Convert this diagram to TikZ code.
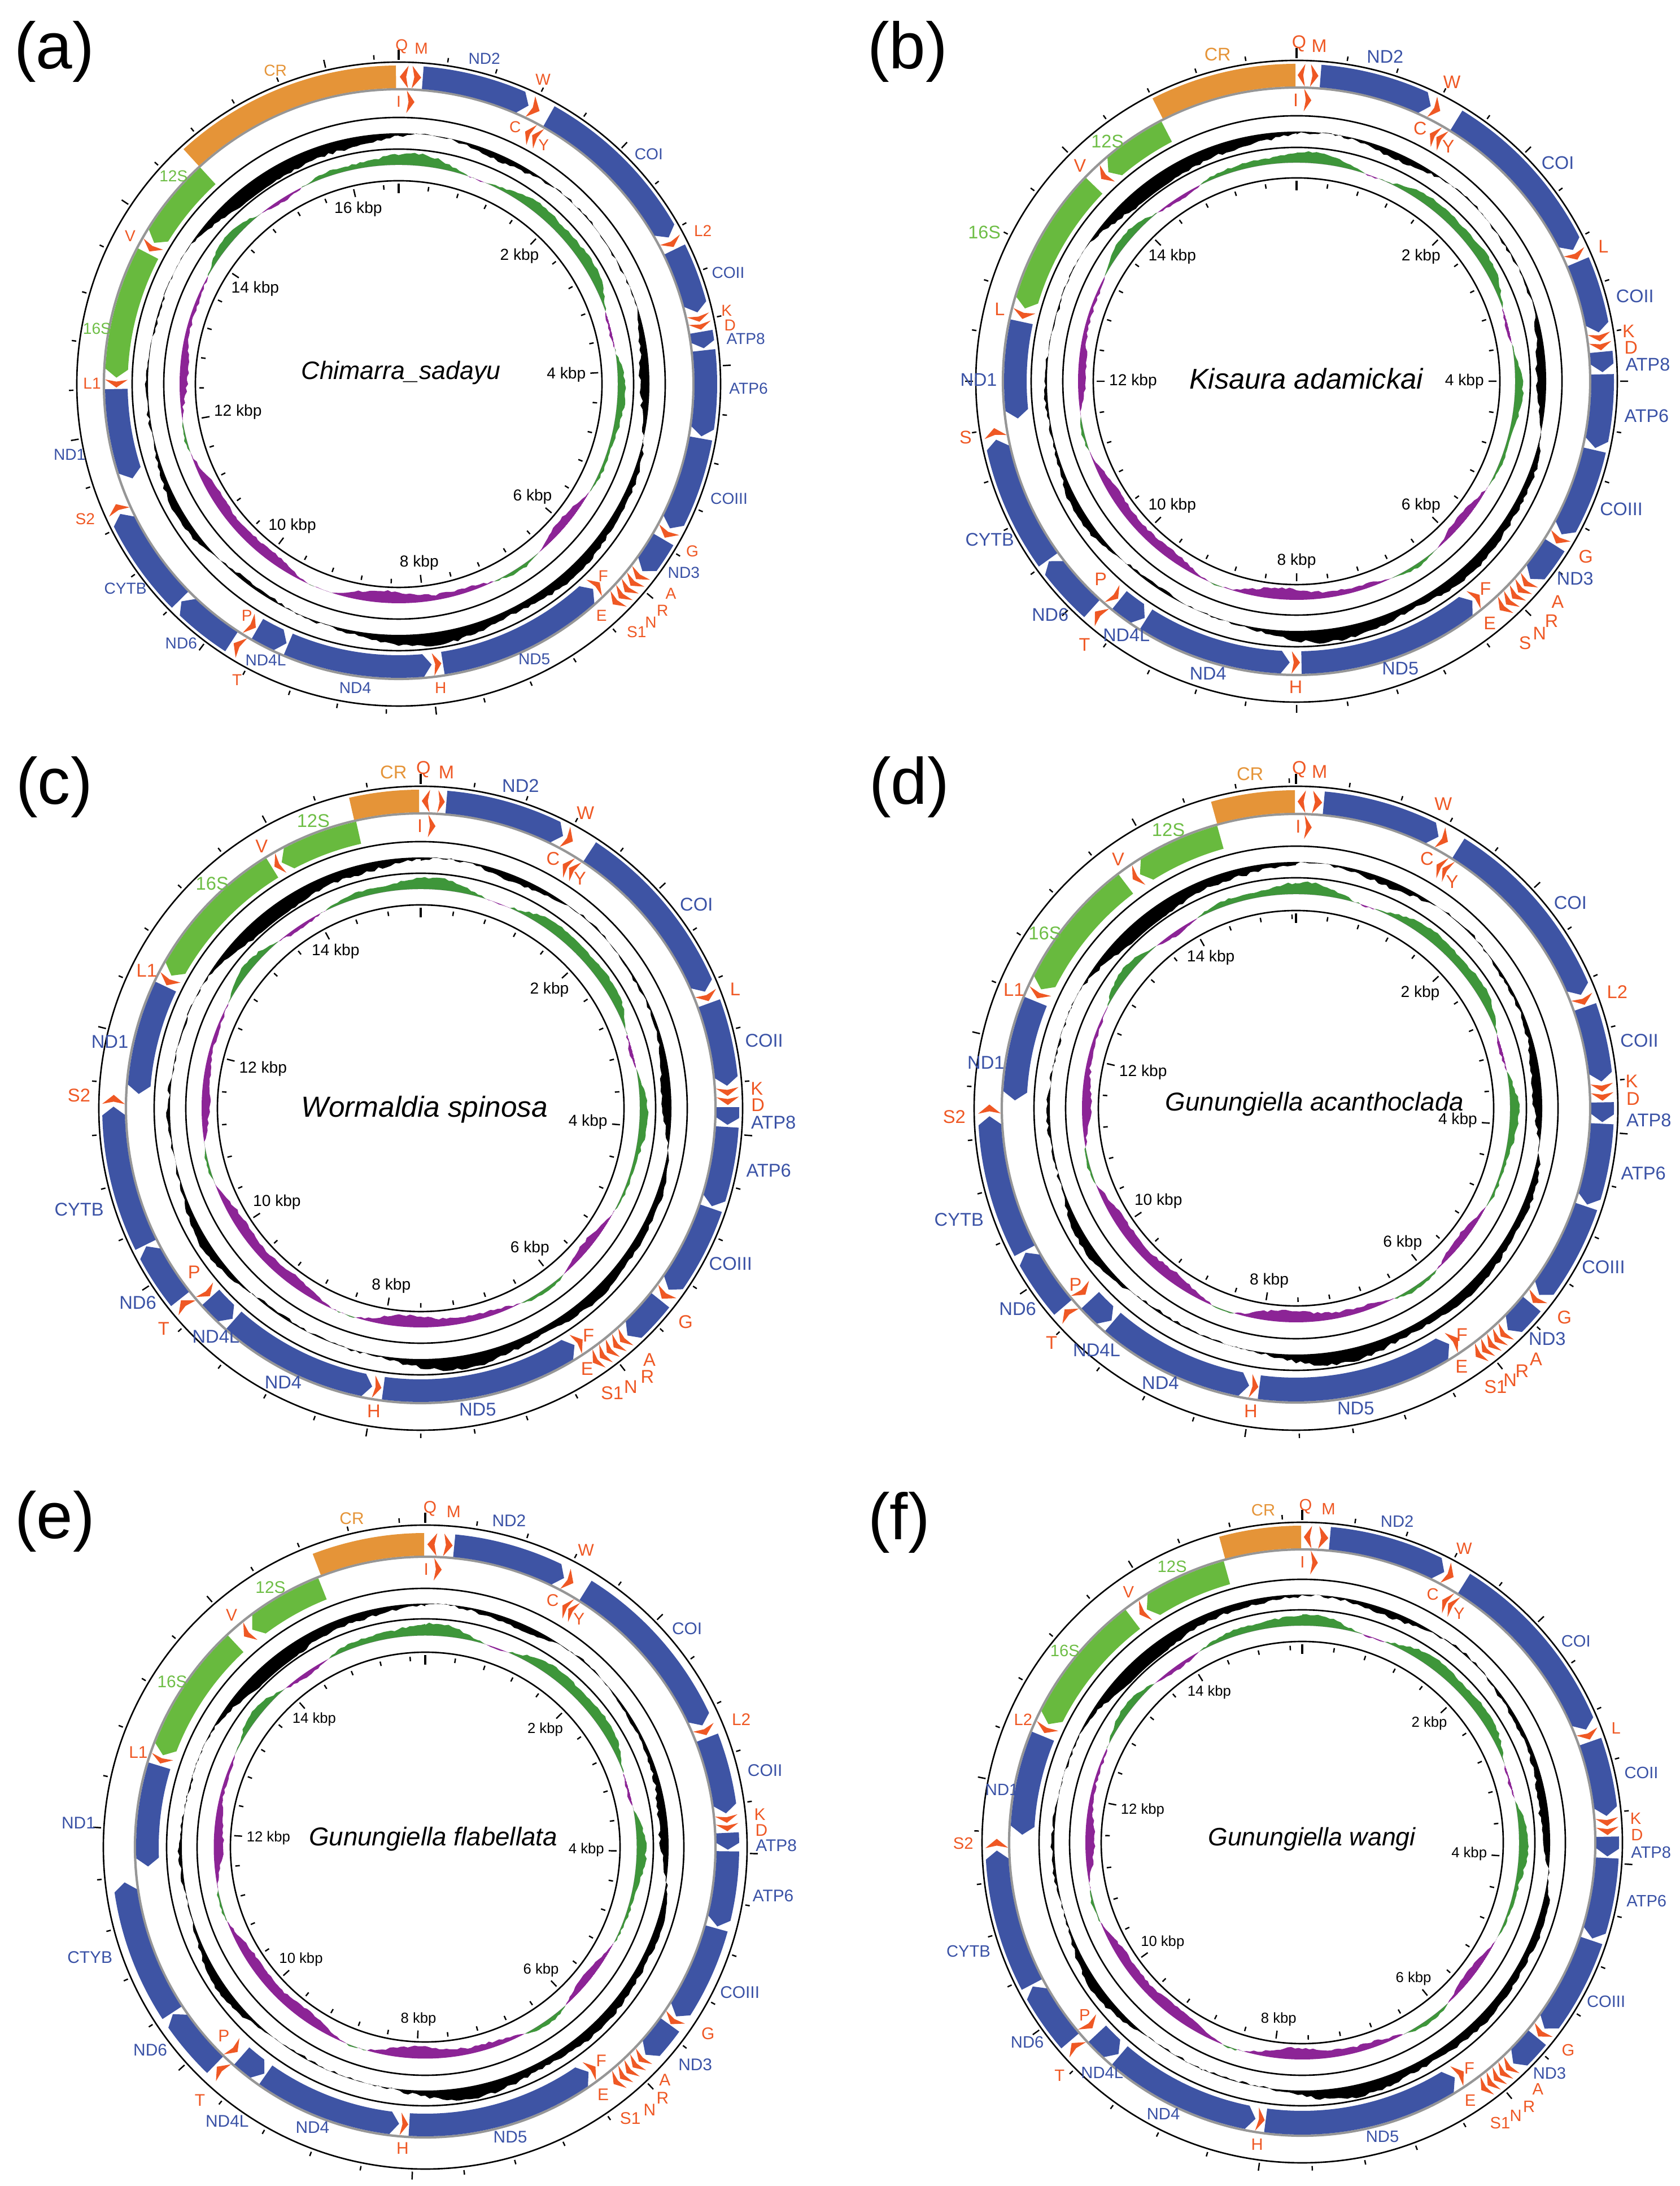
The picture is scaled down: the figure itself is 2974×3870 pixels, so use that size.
\documentclass[tikz,border=0pt]{standalone}
\usepackage{fontspec}
\setmainfont{Liberation Sans}

\definecolor{featB}{RGB}{62,84,164}
\definecolor{featG}{RGB}{104,186,62}
\definecolor{featO}{RGB}{229,148,56}
\definecolor{featR}{RGB}{239,88,36}
\definecolor{labB}{RGB}{58,82,166}
\definecolor{labG}{RGB}{110,190,70}
\definecolor{labO}{RGB}{229,148,56}
\definecolor{labR}{RGB}{239,88,36}
\definecolor{skewgreen}{RGB}{62,150,58}
\definecolor{skewpurple}{RGB}{140,36,150}
\definecolor{bbgrey}{RGB}{150,150,150}

\tikzset{
  ringline/.style={line width=0.75pt},
  backbone/.style={draw=bbgrey, line width=1.2pt},
  tickline/.style={line width=0.7pt},
  zerotick/.style={line width=1.4pt},
  glab/.style={font=\fontsize{\labfs}{\labfs}\selectfont, inner sep=0.5pt},
  kbplab/.style={font=\fontsize{\kbpfs}{\kbpfs}\selectfont, inner sep=1pt},
  spname/.style={font=\fontsize{\spfs}{\spfs}\selectfont\itshape, inner sep=0pt},
  panlab/.style={font=\fontsize{33}{33}\selectfont, inner sep=0pt},
}

% skew and GC content shapes (angle \x clockwise from top)
\newcommand{\skewf}{0.45*cos(\x+20)+0.42*sin(\x)+0.35*cos(7*\x+10+\ph)+0.2*sin(13*\x+\ph)+0.16*(rnd-0.5)}
\newcommand{\gcf}{0.5*cos(\x-170)+0.35*sin(3*\x+\ph)+0.25*cos(6*\x+2*\ph)+0.15*sin(11*\x+\ph)+0.22*(rnd-0.5)}

% R0, band out, backbone, band in, R2, R3, R4, length (kbp), phase
\newcommand{\setpanel}[9]{\def\Rz{#1}\def\Rbo{#2}\def\Rb{#3}\def\Rbi{#4}%
  \def\Rtwo{#5}\def\Rthree{#6}\def\Rfour{#7}\def\gLen{#8}\def\ph{#9}}

\newcommand{\drawrings}{%
  \pgfmathsetmacro\Rg{(\Rtwo+\Rthree)/2}%
  \pgfmathsetmacro\hg{0.44*(\Rtwo-\Rthree)}%
  \pgfmathsetmacro\Rs{(\Rthree+\Rfour)/2}%
  \pgfmathsetmacro\hs{0.44*(\Rthree-\Rfour)}%
  \pgfmathsetseed{\ph}%
  \fill[black, even odd rule] (0,0) circle[radius=\Rg]
    plot[domain=0:360, samples=361] ({90-\x}:{\Rg+\hg*max(-1,min(1,\gcf))}) -- cycle;
  \pgfmathsetseed{\ph+100}%
  \begin{scope}
    \clip plot[domain=0:360, samples=361] ({90-\x}:{\Rs+\hs*max(-1,min(1,\skewf))}) -- cycle;
    \fill[skewgreen, even odd rule] (0,0) circle[radius=\Rthree] (0,0) circle[radius=\Rs];
  \end{scope}
  \pgfmathsetseed{\ph+100}%
  \begin{scope}
    \clip (0,0) circle[radius=\Rs];
    \fill[skewpurple, even odd rule] (0,0) circle[radius=\Rs]
      plot[domain=0:360, samples=361] ({90-\x}:{\Rs+\hs*max(-1,min(1,\skewf))}) -- cycle;
  \end{scope}
  \draw[ringline] (0,0) circle[radius=\Rz] (0,0) circle[radius=\Rtwo]
    (0,0) circle[radius=\Rthree] (0,0) circle[radius=\Rfour];
  \draw[backbone] (0,0) circle[radius=\Rb];
}

\newcommand{\drawticks}[1]{%
  \pgfmathtruncatemacro\nt{ceil(\gLen/0.4)-1}%
  \foreach \k in {0,...,\nt}{%
    \pgfmathsetmacro\ta{90-\k*0.4/\gLen*360}%
    \pgfmathtruncatemacro\kmaj{mod(\k,5)}%
    \ifnum\k=0
      \draw[zerotick] (\ta:{\Rz+4}) -- (\ta:{\Rz+22}) (\ta:{\Rfour-5}) -- (\ta:{\Rfour-22});
    \else\ifnum\kmaj=0
      \draw[tickline] (\ta:{\Rz+5}) -- (\ta:{\Rz+19}) (\ta:{\Rfour-6}) -- (\ta:{\Rfour-20});
    \else
      \draw[tickline] (\ta:{\Rz+6}) -- (\ta:{\Rz+14}) (\ta:{\Rfour-7}) -- (\ta:{\Rfour-15});
    \fi\fi
  }%
  \foreach \kb in {2,4,...,#1}{%
    \pgfmathsetmacro\ta{90-\kb/\gLen*360}%
    \pgfmathsetmacro\tn{mod(\ta+720,360)}%
    \node[kbplab, anchor=\tn] (\pn-kbp\kb) at (\ta:{\Rfour-24}) {\kb\ kbp};
  }}

\def\typR{R}\def\bandO{o}
% start, end, band (o/i), direction, type (B/G/O/R)
\newcommand{\feat}[5]{%
  \edef\tmpb{#3}\edef\tmpt{#5}\edef\fc{feat#5}%
  \ifx\tmpb\bandO
    \pgfmathsetmacro\rIn{\Rb+2}\let\rOut\Rbo
  \else
    \let\rIn\Rbi\pgfmathsetmacro\rOut{\Rb-2}%
  \fi
  \pgfmathsetmacro\rMid{(\rIn+\rOut)/2}%
  \pgfmathsetmacro\aS{90-(#1)}\pgfmathsetmacro\aE{90-(#2)}%
  \ifx\tmpt\typR
    \pgfmathsetmacro\aW{\aS-\aE}%
    \ifnum#4>0
      \pgfmathsetmacro\aN{\aS-0.25*\aW}%
      \fill[fill=\fc] (\aS:\rIn) -- (\aN:\rMid) -- (\aS:\rOut) -- (\aE:\rMid) -- cycle;
    \else
      \pgfmathsetmacro\aN{\aE+0.25*\aW}%
      \fill[fill=\fc] (\aE:\rIn) -- (\aN:\rMid) -- (\aE:\rOut) -- (\aS:\rMid) -- cycle;
    \fi
  \else
    \pgfmathsetmacro\dl{min(15/\rMid*57.3,0.4*(\aS-\aE))}%
    \ifnum#4>0
      \pgfmathsetmacro\aT{\aE+\dl}%
      \fill[fill=\fc] (\aS:\rOut) arc[start angle=\aS,end angle=\aT,radius=\rOut]
        -- (\aE:\rMid) -- (\aT:\rIn) arc[start angle=\aT,end angle=\aS,radius=\rIn] -- cycle;
    \else\ifnum#4<0
      \pgfmathsetmacro\aT{\aS-\dl}%
      \fill[fill=\fc] (\aT:\rOut) arc[start angle=\aT,end angle=\aE,radius=\rOut]
        -- (\aE:\rIn) arc[start angle=\aE,end angle=\aT,radius=\rIn] -- (\aS:\rMid) -- cycle;
    \else
      \fill[fill=\fc] (\aS:\rOut) arc[start angle=\aS,end angle=\aE,radius=\rOut]
        -- (\aE:\rIn) arc[start angle=\aE,end angle=\aS,radius=\rIn] -- cycle;
    \fi\fi
  \fi}

\def\modeO{o}\def\modeB{b}\def\modeN{n}\def\modeX{x}
% angle, mode (o/b/n/x/radius), type, text, name
\newcommand{\flab}[5]{%
  \edef\tmpm{#2}%
  \ifx\tmpm\modeX\else
    \edef\lc{lab#3}%
    \pgfmathsetmacro\la{90-(#1)}%
    \ifx\tmpm\modeO
      \pgfmathsetmacro\lan{mod(270-(#1)+720,360)}%
      \node[glab, text=\lc, anchor=\lan] (#5) at (\la:{\Rz+13}) {#4};%
    \else\ifx\tmpm\modeB
      \node[glab, text=\lc] (#5) at (\la:{\Rb+21}) {#4};%
    \else\ifx\tmpm\modeN
      \node[glab, text=\lc] (#5) at (\la:{\Rb-22}) {#4};%
    \else
      \node[glab, text=\lc] (#5) at (\la:{#2}) {#4};%
    \fi\fi\fi
  \fi}

\newcommand{\drawmap}{%
  \foreach \pS/\pE/\pB/\pD/\pT/\pN/\pM/\pO in \featlist{\feat{\pS}{\pE}{\pB}{\pD}{\pT}}%
  \foreach \pS/\pE/\pB/\pD/\pT/\pN/\pM/\pO [count=\i] in \featlist{%
    \pgfmathsetmacro\lang{(\pS+\pE)/2+\pO}%
    \flab{\lang}{\pM}{\pT}{\pN}{\pn-\i}}}

\begin{document}
\begin{tikzpicture}[x=0.01cm, y=0.01cm]
\useasboundingbox (0,0) rectangle (2974,3870);
\fill[white] (0,0) rectangle (2974,3870);

% {Chimarra sadayu}
\begin{scope}[shift={(706,3190)}]
\def\pn{a}\def\labfs{8}\def\kbpfs{8}
\setpanel{570}{564}{522}{480}{472}{416}{360}{16.6}{3}
\drawrings
\drawticks{16}
\def\featlist{317.5/359.5/o/0/O/CR/o/0, 0.2/1.8/o/-1/R/Q/o/-0.5, 2.5/4.2/o/1/R/M/o/0.5,
 1.6/3.2/i/1/R/I/n/-2.4, 4.5/25/o/1/B/ND2/o/0, 25.4/27.3/o/1/R/W/o/-1,
 26.6/28.1/i/-1/R/C/n/-3, 28.2/29.7/i/-1/R/Y/495/2.3, 29.3/61.5/o/1/B/COI/o/2,
 62/63.5/o/1/R/L2/o/0.5, 64/76.5/o/1/B/COII/o/1, 77/78.3/o/1/R/K/o/-0.3,
 78.5/79.8/o/1/R/D/o/0.8, 80.2/83.3/o/1/B/ATP8/o/0.8, 83.7/99.8/o/1/B/ATP6/o/-1,
 100.2/118/o/1/B/COIII/o/0, 118.3/120/o/1/R/G/o/0.5, 120.4/127.5/o/1/B/ND3/o/-0.5,
 127.9/129.4/o/1/R/A/608/-1.1, 129.5/131/o/1/R/R/616/0.4, 131.1/132.6/o/1/R/N/614/1.5,
 132.7/134.2/o/1/R/S1/608/2.7, 134.3/135.8/o/1/R/E/545/3.7, 134.6/136.2/i/-1/R/F/497/-2.2,
 136.5/171/i/-1/B/ND5/b/0, 171.3/173/i/-1/R/H/b/0, 173.3/203/i/-1/B/ND4/b/0,
 203.4/210/i/-1/B/ND4L/b/-1, 210.4/212.1/i/-1/R/P/490/2, 210.8/212.5/o/1/R/T/o/-3,
 213/225/o/1/B/ND6/o/1, 225.4/245/o/1/B/CYTB/o/-2, 245.4/247/o/1/R/S2/o/0.5,
 250.5/269/i/-1/B/ND1/596/-1.8, 269.3/270.9/i/-1/R/L1/b/0, 271.3/297.5/i/-1/G/16S/b/-4,
 298/299.7/i/-1/R/V/b/0, 300/317.5/i/-1/G/12S/b/4}
\drawmap
\end{scope}

% {Kisaura adamickai}
\begin{scope}[shift={(2296,3195)}]
\def\pn{b}\def\labfs{9.2}\def\kbpfs{8}
\setpanel{568}{562}{520}{478}{470}{414}{360}{16.0}{7}
\drawrings
\drawticks{14}
\def\featlist{333/359.8/o/0/O/CR/o/0, 0.2/1.6/o/-1/R/Q/o/-0.5, 2.6/4.1/o/1/R/M/o/0.5,
 1.5/3.0/i/1/R/I/n/-2.4, 4.5/26/o/1/B/ND2/o/0, 26.3/28/o/1/R/W/o/0.3,
 28.3/29.8/i/-1/R/C/n/-3, 29.8/31.3/i/-1/R/Y/495/2.3, 31.5/64.6/o/1/B/COI/o/2,
 65/66.6/o/1/R/L/o/0.5, 67/80.8/o/1/B/COII/o/2, 81/82.5/o/1/R/K/o/-0.3,
 82.7/84.2/o/1/R/D/o/0.8, 84.5/88.3/o/1/B/ATP8/o/0.8, 88.7/102.6/o/1/B/ATP6/o/0,
 103/120/o/1/B/COIII/o/0, 120.3/122/o/1/R/G/o/0, 122.4/130.2/o/1/B/ND3/o/-1,
 130.5/132/o/1/R/A/605/-1.1, 132.1/133.6/o/1/R/R/620/0.4, 133.7/135.2/o/1/R/N/620/1.6,
 135.3/136.8/o/1/R/S/615/2.8, 136.9/138.4/o/1/R/E/548/3.7, 139.4/141/i/-1/R/F/497/-2.5,
 141.3/179/i/-1/B/ND5/b/0, 179.3/181/i/-1/R/H/b/0, 181.4/212.3/i/-1/B/ND4/b/0,
 212.7/219/i/-1/B/ND4L/b/-2, 219.4/221/i/-1/R/P/493/4.5, 219.5/221.2/o/1/R/T/o/-1.5,
 222/234/o/1/B/ND6/o/-1.5, 234.3/259/o/1/B/CYTB/o/-4, 259.5/261.2/o/1/R/S/o/0,
 262.4/282.2/i/-1/B/ND1/563/-2, 282.8/284.5/i/-1/R/L/b/0, 285/314/i/-1/G/16S/o/-4,
 316/317.7/i/-1/R/V/b/-2, 318/332.5/i/-1/G/12S/b/-3.5}
\drawmap
\end{scope}

% {Wormaldia spinosa}
\begin{scope}[shift={(745,1908)}]
\def\pn{c}\def\labfs{9.3}\def\kbpfs{8}
\setpanel{570}{564}{522}{480}{472}{416}{360}{15.2}{13}
\drawrings
\drawticks{14}
\def\featlist{347/359.7/o/0/O/CR/o/2, 0.2/1.7/o/-1/R/Q/o/-0.5, 3.2/4.5/o/1/R/M/o/0.5,
 1.5/3/i/1/R/I/n/-2.4, 4.8/27.6/o/1/B/ND2/o/1, 28/29.7/o/1/R/W/o/0.3,
 30.2/31.7/i/-1/R/C/n/-3, 31.7/33.2/i/-1/R/Y/495/2.3, 33.4/67.7/o/1/B/COI/o/3,
 68/69.6/o/1/R/L/o/0.5, 70/85.8/o/1/B/COII/o/1, 86.2/87.7/o/1/R/K/o/-0.3,
 87.9/89.4/o/1/R/D/o/0.8, 89.8/93.1/o/1/B/ATP8/o/0.8, 93.5/108.6/o/1/B/ATP6/o/-1,
 109/126.2/o/1/B/COIII/o/-1, 126.6/128.3/o/1/R/G/o/1.4, 128.7/137.7/o/1/B/ND3/x/0,
 138.1/139.5/o/1/R/A/602/-1.1, 139.7/141.1/o/1/R/R/622/-0.6, 141.3/142.7/o/1/R/N/618/1,
 142.9/144.3/o/1/R/S1/608/2.5, 144.5/145.9/o/1/R/E/547/2.2, 145/146.7/i/-1/R/F/500/-2.3,
 147/187.6/i/-1/B/ND5/b/2, 188/189.6/i/-1/R/H/b/0, 189.9/221.4/i/-1/B/ND4/b/1,
 221.8/228/i/-1/B/ND4L/b/-3, 228.3/230/i/-1/R/P/495/5, 229.5/231.3/o/1/R/T/o/-1,
 231.6/243.3/o/1/B/ND6/o/-2, 243.6/270.3/o/1/B/CYTB/o/-3.5, 270.8/272.5/o/1/R/S2/o/0.5,
 272.9/295.5/i/-1/B/ND1/563/-2.1, 295.8/297.6/i/-1/R/L1/b/0, 298/328.3/i/-1/G/16S/b/4,
 328.8/330.3/i/-1/R/V/b/-0.8, 330.5/347.3/i/-1/G/12S/b/0.6}
\drawmap
\end{scope}

% {Gunungiella acanthoclada}
\begin{scope}[shift={(2295,1908)}]
\def\pn{d}\def\labfs{9.3}\def\kbpfs{8}
\setpanel{570}{563}{521}{477}{464}{408}{350}{15.25}{19}
\drawrings
\drawticks{14}
\def\featlist{344.5/359.8/o/0/O/CR/o/0, 0.3/1.8/o/-1/R/Q/o/-0.5, 3.1/4.9/o/1/R/M/o/0,
 1.7/3.2/i/1/R/I/n/-2, 5.2/27.7/o/1/B/ND2/x/0, 28/29.7/o/1/R/W/o/-3,
 30/31.4/i/-1/R/C/n/-3, 31.4/32.8/i/-1/R/Y/487/2.5, 32/68.3/o/1/B/COI/o/3,
 68.7/70.3/o/1/R/L2/o/0.6, 70.7/85/o/1/B/COII/o/1, 85.4/86.9/o/1/R/K/o/-0.8,
 87.1/88.6/o/1/R/D/o/0.5, 88.9/92.6/o/1/B/ATP8/o/1.2, 92.9/108.3/o/1/B/ATP6/o/0,
 108.7/127.5/o/1/B/COIII/o/-0.8, 127.8/129.4/o/1/R/G/o/-0.7, 129.7/136.3/o/1/B/ND3/o/-0.5,
 136.7/138.1/o/1/R/A/615/-1.1, 138.2/139.6/o/1/R/R/614/0.4, 139.7/141.1/o/1/R/N/613/1.4,
 141.2/142.6/o/1/R/S1/607/2.5, 142.7/144.1/o/1/R/E/543/3.9, 144.8/146.5/i/-1/R/F/497/-1.9,
 147/187.5/i/-1/B/ND5/b/1.5, 187.7/189.3/i/-1/R/H/b/0, 189.6/220.6/i/-1/B/ND4/b/1.2,
 221/227/i/-1/B/ND4L/555/-4.5, 228.5/230.2/i/-1/R/P/500/2, 227.3/229/o/1/R/T/o/-2,
 229.5/241.9/o/1/B/ND6/o/-1.5, 242.3/268.5/o/1/B/CYTB/o/-3.7, 269/270.7/o/1/R/S2/o/-1.3,
 271.6/292.3/i/-1/B/ND1/555/-3.6, 293/294.6/i/-1/R/L1/b/-1, 295/322.8/i/-1/G/16S/b/-4,
 324.5/326/i/-1/R/V/b/-0.8, 326.3/344.4/i/-1/G/12S/b/0}
\drawmap
\end{scope}

% {Gunungiella flabellata}
\begin{scope}[shift={(753,600)}]
\def\pn{e}\def\labfs{8.5}\def\kbpfs{7.3}
\setpanel{570}{556}{514}{472}{458}{404}{345}{15.8}{23}
\drawrings
\drawticks{14}
\def\featlist{339/359.8/o/0/O/CR/o/-2, 0.4/2.2/o/-1/R/Q/o/-0.5, 3.5/5.2/o/1/R/M/o/0.5,
 1.8/3.4/i/1/R/I/n/-2.4, 5.5/27.3/o/1/B/ND2/o/-2, 27.6/29.3/o/1/R/W/o/0,
 29.6/31/i/-1/R/C/n/-3, 31/32.4/i/-1/R/Y/487/2.3, 32/66.3/o/1/B/COI/o/1,
 66.7/68.3/o/1/R/L2/o/0.5, 68.8/83.6/o/1/B/COII/o/1, 84/85.4/o/1/R/K/o/-0.3,
 85.6/87/o/1/R/D/o/0.8, 87.3/90.5/o/1/B/ATP8/o/0.8, 90.8/105.2/o/1/B/ATP6/o/0,
 105.6/124/o/1/B/COIII/o/0, 124.2/125.8/o/1/R/G/o/-1.6, 126/133.3/o/1/B/ND3/614/-0.8,
 133.7/135.1/o/1/R/A/592/-0.2, 135.3/136.7/o/1/R/R/612/0.6, 136.9/138.3/o/1/R/N/612/1.9,
 138.5/139.9/o/1/R/S1/602/3.7, 140.1/141.5/o/1/R/E/540/3.5, 142.2/143.8/i/-1/R/F/490/-2.5,
 144/183.3/i/-1/B/ND5/b/0, 183.5/185.1/i/-1/R/H/b/0, 185.4/215/i/-1/B/ND4/b/1.7,
 215.4/221.3/i/-1/B/ND4L/o/-2.5, 222.5/224.2/i/-1/R/P/489/3.5, 221.8/223.5/o/1/R/T/o/-1,
 224/236.5/o/1/B/ND6/o/3.3, 236.8/263.3/o/1/B/CTYB/o/1.7, 266/287/i/-1/B/ND1/o/-2.5,
 287.5/289/i/-1/R/L1/b/0, 289.3/317/i/-1/G/16S/b/0, 319.3/321/i/-1/R/V/b/0,
 321.5/338.3/i/-1/G/12S/b/-0.7}
\drawmap
\end{scope}

% {Gunungiella wangi}
\begin{scope}[shift={(2306,608)}]
\def\pn{f}\def\labfs{8.3}\def\kbpfs{7.3}
\setpanel{567}{561}{519}{475}{466}{412}{356}{15.35}{29}
\drawrings
\drawticks{14}
\def\featlist{344.8/359.8/o/0/O/CR/o/1, 0.3/1.8/o/-1/R/Q/o/-0.5, 3.1/4.9/o/1/R/M/o/0.5,
 1.7/3.2/i/1/R/I/n/-2.4, 5.2/27.7/o/1/B/ND2/o/0, 28/29.7/o/1/R/W/o/0,
 30/31.4/i/-1/R/C/n/-3, 31.4/32.8/i/-1/R/Y/492/2.3, 32/68.3/o/1/B/COI/o/3.5,
 68.7/70.3/o/1/R/L/o/0.5, 70.7/85/o/1/B/COII/o/0.5, 85.4/86.9/o/1/R/K/o/-0.3,
 87.1/88.6/o/1/R/D/o/0.8, 88.9/92.6/o/1/B/ATP8/o/0.8, 92.9/108.3/o/1/B/ATP6/o/-1,
 108.7/127.5/o/1/B/COIII/o/-0.5, 127.8/129.4/o/1/R/G/o/-0.6, 129.7/136.3/o/1/B/ND3/o/0,
 136.7/138.1/o/1/R/A/604/-1.1, 138.2/139.6/o/1/R/R/616/0.4, 139.7/141.1/o/1/R/N/614/1.6,
 141.2/142.6/o/1/R/S1/608/2.9, 142.7/144.1/o/1/R/E/545/3.5, 144.8/146.5/i/-1/R/F/497/-2.2,
 147/187.5/i/-1/B/ND5/b/-2.5, 187.7/189.3/i/-1/R/H/b/0, 189.6/220.6/i/-1/B/ND4/b/2,
 221/227/i/-1/B/ND4L/b/-3, 228.5/230.2/i/-1/R/P/492/2.2, 227.3/229/o/1/R/T/o/-2,
 229.5/241.9/o/1/B/ND6/o/-1.7, 242.3/268.5/o/1/B/CYTB/o/-3.4, 269/270.7/o/1/R/S2/o/0,
 271.6/292.3/i/-1/B/ND1/b/-2, 293/294.6/i/-1/R/L2/b/0, 295/322.8/i/-1/G/16S/b/0,
 324.5/326/i/-1/R/V/b/0, 326.3/344.4/i/-1/G/12S/b/-0.6}
\drawmap
\end{scope}

% species names and panel letters
\def\spfs{12.7}\node[spname] (name-a) at (710,3210) {Chimarra\_sadayu};
\def\spfs{14.4}\node[spname] (name-b) at (2313,3200) {Kisaura adamickai};
\def\spfs{14.6}\node[spname] (name-c) at (752,1906) {Wormaldia spinosa};
\def\spfs{13}\node[spname] (name-d) at (2328,1915) {Gunungiella acanthoclada};
\def\spfs{13}\node[spname] (name-e) at (767,614) {Gunungiella flabellata};
\def\spfs{12.7}\node[spname] (name-f) at (2323,614) {Gunungiella wangi};

\node[panlab] (lab-a) at (96,3778) {(a)};
\node[panlab] (lab-b) at (1607,3778) {(b)};
\node[panlab] (lab-c) at (96,2476) {(c)};
\node[panlab] (lab-d) at (1610,2476) {(d)};
\node[panlab] (lab-e) at (97,1177) {(e)};
\node[panlab] (lab-f) at (1592,1175) {(f)};
\end{tikzpicture}
\end{document}
